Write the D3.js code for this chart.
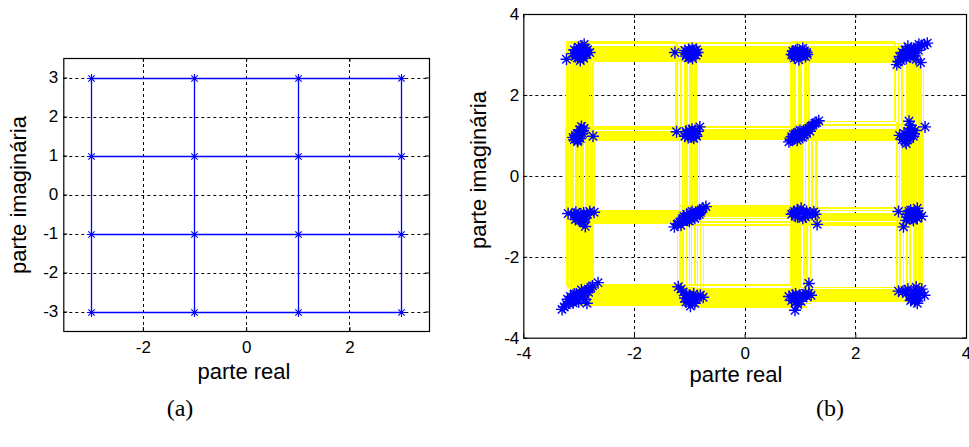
<!DOCTYPE html>
<html><head><meta charset="utf-8">
<script src="https://cdn.jsdelivr.net/npm/d3@7"></script>
<style>body{margin:0;background:#fff}svg{display:block}</style>
</head><body>
<svg id="chart" width="969" height="447"></svg>
<script>
// ---------- data ----------
const levels = [-3, -1, 1, 3];
const leftTicksX = [-2, 0, 2];
const leftTicksY = [-3, -2, -1, 0, 1, 2, 3];
const rightTicksX = [-4, -2, 0, 2, 4];
const rightTicksY = [-4, -2, 0, 2, 4];
const xLabel = "parte real";
const yLabel = "parte imaginária";
const captions = ["(a)", "(b)"];

// yellow horizontal bands: [row level, from column, to column, line y values]
const hBands = [
  [3, -3, -1, [3.31, 3.27, 3.19, 3.16, 3.13, 3.10, 3.07, 3.04, 3.01, 2.98, 2.95, 2.92, 2.89, 2.86, 2.82]],
  [3, -1, 1, [3.28, 3.20, 3.17, 3.14, 3.11, 3.08, 3.05, 3.02, 2.99, 2.96, 2.93, 2.90, 2.87, 2.84, 2.81]],
  [3, 1, 3, [3.31, 3.27, 3.19, 3.16, 3.13, 3.10, 3.07, 3.04, 3.01, 2.98, 2.95, 2.92, 2.89, 2.86, 2.81]],
  [1, -3, -1, [1.21, 1.16, 1.08, 1.05, 1.02, 0.99, 0.96, 0.93, 0.89]],
  [1, -1, 1, [1.22, 1.19, 1.14, 1.11, 1.08, 1.05, 1.02, 0.99, 0.96, 0.93, 0.90]],
  [1, 1, 3, [1.34, 1.27, 1.24, 1.13, 1.10, 1.07, 1.04, 1.01, 0.98, 0.95, 0.92, 0.88]],
  [-1, -3, -1, [-0.86, -0.89, -0.92, -0.95, -0.98, -1.01, -1.04, -1.07, -1.09, -1.13, -1.17]],
  [-1, -1, 1, [-0.75, -0.78, -0.81, -0.84, -0.87, -0.90, -0.93, -0.96, -0.99, -1.01, -1.06, -1.14, -1.22]],
  [-1, 1, 3, [-0.80, -0.86, -0.93, -0.96, -0.99, -1.02, -1.05, -1.09, -1.16, -1.22]],
  [-3, -3, -1, [-2.70, -2.73, -2.76, -2.79, -2.82, -2.85, -2.88, -2.91, -2.94, -2.97, -3.00, -3.03, -3.06, -3.09, -3.12, -3.15, -3.19]],
  [-3, -1, 1, [-2.70, -2.78, -2.82, -2.85, -2.88, -2.91, -2.94, -2.97, -3.00, -3.03, -3.06, -3.09, -3.12, -3.15, -3.18, -3.21, -3.24]],
  [-3, 1, 3, [-2.76, -2.82, -2.86, -2.89, -2.92, -2.95, -2.98, -3.01, -3.04, -3.07, -3.10]]
];
// yellow vertical bands: [column level, from row, to row, line x values]
const vBands = [
  [-3, 3, 1, [-3.22, -3.19, -3.14, -3.11, -3.08, -3.05, -3.02, -2.99, -2.96, -2.93, -2.90, -2.87, -2.83, -2.79, -2.74]],
  [-3, 1, -1, [-3.23, -3.19, -3.15, -3.12, -3.09, -3.06, -3.03, -3.00, -2.97, -2.94, -2.91, -2.88, -2.85, -2.82, -2.79, -2.76, -2.71]],
  [-3, -1, -3, [-3.22, -3.19, -3.14, -3.11, -3.08, -3.05, -3.02, -2.99, -2.96, -2.93, -2.90, -2.87, -2.84, -2.81, -2.78, -2.74]],
  [-1, 3, 1, [-1.24, -1.21, -1.15, -1.09, -1.06, -1.03, -1.00, -0.97, -0.94, -0.91, -0.88]],
  [-1, 1, -1, [-1.18, -1.12, -1.09, -1.06, -1.03, -1.00, -0.97, -0.94, -0.91, -0.88, -0.85, -0.82]],
  [-1, -1, -3, [-1.21, -1.17, -1.11, -1.05, -1.00, -0.96, -0.90, -0.85, -0.80, -0.74]],
  [1, 3, 1, [0.83, 0.86, 0.89, 0.92, 0.97, 1.00, 1.03, 1.09, 1.12, 1.16]],
  [1, 1, -1, [0.83, 0.86, 0.89, 0.92, 0.95, 0.98, 1.01, 1.04, 1.10, 1.16, 1.22, 1.28, 1.31]],
  [1, -1, -3, [0.83, 0.86, 0.89, 0.92, 0.95, 0.98, 1.01, 1.07, 1.13, 1.19]],
  [3, 3, 1, [2.72, 2.78, 2.84, 2.93, 2.96, 2.99, 3.02, 3.05, 3.08, 3.11, 3.14, 3.17, 3.20, 3.23]],
  [3, 1, -1, [2.75, 2.80, 2.84, 2.87, 2.90, 2.93, 2.96, 2.99, 3.02, 3.05, 3.08, 3.11, 3.14, 3.17, 3.20, 3.22]],
  [3, -1, -3, [2.75, 2.81, 2.87, 2.93, 2.99, 3.05, 3.08, 3.11, 3.14, 3.17, 3.21]]
];

// received (noisy) symbols, one list per constellation point
const rxTopRow = [
  [[-3.22,2.88],[-3.05,3.02],[-2.98,3.10],[-2.92,2.98],[-2.88,3.15],[-3.02,2.92],[-2.95,3.05],[-2.85,3.00],[-3.08,3.12],[-2.90,3.25],[-2.97,2.85],[-2.80,3.05],[-3.00,3.18],[-2.93,2.95],[-2.87,3.08],[-3.10,3.02],[-3.04,3.08],[-2.96,3.14],[-2.90,3.04],[-2.99,2.99],[-3.06,2.95],[-2.84,3.12],[-2.94,3.20],[-3.01,3.05],[-2.91,2.91]],
  [[-1.26,3.05],[-1.05,3.00],[-0.98,3.08],[-0.92,3.02],[-1.02,2.92],[-0.95,3.15],[-0.88,2.98],[-1.08,3.10],[-0.97,2.95],[-0.92,3.10],[-1.00,3.04],[-0.85,3.05],[-1.04,3.06],[-0.96,3.00],[-0.90,3.06],[-1.01,3.12],[-0.94,2.90],[-0.99,2.98],[-1.06,2.96],[-0.87,3.12]],
  [[0.89,3.03],[0.92,3.10],[0.85,3.00],[0.90,2.92],[0.95,3.12],[1.07,3.03],[1.10,2.95],[1.05,3.15],[1.12,3.05],[0.98,2.87],[1.02,3.00],[0.87,3.08],[0.93,3.00],[0.88,2.97],[1.08,3.09],[1.04,2.98],[1.13,3.00],[0.91,3.06]],
  [[2.75,2.75],[2.82,2.85],[2.88,2.95],[2.93,3.03],[2.98,3.08],[3.05,3.12],[3.12,3.18],[3.20,3.22],[3.30,3.28],[2.90,3.12],[2.85,3.05],[3.00,2.95],[3.10,2.88],[3.18,2.80],[2.95,3.20],[3.06,3.02],[2.80,2.95],[3.15,3.25],[2.92,2.90],[2.97,3.00],[3.02,3.06],[3.08,3.15],[2.86,2.92],[2.95,2.98],[3.04,2.98],[3.25,3.24],[3.14,3.10],[2.78,2.82],[2.88,3.02],[3.00,3.14]]
];
const rxRow2 = [
  [[-3.05,0.97],[-3.08,0.90],[-3.00,1.02],[-3.02,0.85],[-2.95,1.10],[-2.90,1.18],[-2.93,1.05],[-3.10,0.95],[-2.74,0.98],[-2.97,0.92],[-2.98,1.14],[-3.04,0.92],[-3.06,1.00],[-2.99,0.96],[-2.92,1.12],[-3.01,0.88],[-2.95,1.22],[-3.03,1.04]],
  [[-1.23,1.09],[-1.05,1.05],[-0.98,1.00],[-0.93,1.08],[-1.02,0.95],[-0.95,1.15],[-0.88,1.02],[-0.81,1.21],[-1.00,1.12],[-0.92,0.93],[-1.08,0.98],[-0.97,1.05],[-0.85,1.10],[-1.03,1.02],[-0.96,0.96],[-0.90,1.12],[-0.99,1.08],[-0.94,1.02],[-1.06,1.10],[-0.87,0.98]],
  [[0.80,0.84],[0.86,0.90],[0.92,0.95],[0.97,1.00],[1.02,1.04],[1.07,1.08],[1.13,1.15],[1.20,1.22],[1.27,1.30],[1.34,1.36],[0.88,1.02],[0.95,0.88],[1.05,0.95],[1.00,1.12],[0.85,0.97],[1.12,1.05],[1.18,1.10],[0.83,0.88],[0.90,0.92],[0.94,0.99],[0.99,1.03],[1.04,1.07],[1.10,1.12],[1.16,1.18],[1.23,1.25],[1.30,1.32],[0.92,1.04],[1.02,0.98],[1.08,1.00],[0.97,1.08]],
  [[2.93,0.97],[2.85,0.90],[2.80,1.00],[2.90,0.85],[2.98,0.92],[3.02,1.05],[2.95,1.10],[3.00,1.25],[2.97,1.35],[3.05,0.98],[2.88,1.05],[3.08,1.12],[3.26,1.21],[2.92,0.80],[2.96,1.02],[2.90,0.95],[3.00,1.00],[2.94,0.90],[3.03,1.15],[2.98,1.18],[2.86,0.97],[3.06,1.04]]
];
const rxRow3 = [
  [[-3.19,-0.93],[-3.08,-0.95],[-3.00,-0.98],[-2.95,-1.02],[-2.90,-1.08],[-2.85,-0.95],[-2.80,-0.88],[-2.72,-0.90],[-3.02,-1.05],[-2.92,-1.15],[-2.88,-1.25],[-3.05,-0.90],[-2.98,-1.10],[-2.96,-0.94],[-3.03,-1.00],[-2.93,-1.00],[-2.87,-1.04],[-2.99,-1.04],[-2.91,-0.92],[-3.06,-1.08],[-2.94,-1.12]],
  [[-1.27,-1.26],[-1.20,-1.18],[-1.12,-1.12],[-1.05,-1.06],[-0.98,-1.01],[-0.92,-0.96],[-0.85,-0.90],[-0.78,-0.84],[-0.70,-0.76],[-1.10,-1.00],[-1.00,-1.12],[-0.90,-1.05],[-0.95,-0.88],[-1.15,-1.22],[-0.82,-0.95],[-1.05,-0.95],[-1.17,-1.14],[-1.08,-1.08],[-1.02,-1.03],[-0.95,-0.99],[-0.88,-0.93],[-0.82,-0.86],[-0.75,-0.80],[-1.12,-1.05],[-1.03,-1.10],[-0.93,-1.02],[-0.86,-0.98],[-0.97,-0.92],[-1.22,-1.20],[-0.80,-0.90]],
  [[0.88,-0.92],[0.95,-0.85],[0.92,-1.00],[0.98,-0.95],[1.02,-0.80],[1.08,-0.95],[1.12,-0.88],[1.10,-1.02],[1.18,-0.92],[1.25,-0.89],[1.28,-0.95],[1.31,-1.20],[0.85,-0.95],[1.05,-1.05],[0.90,-0.88],[0.96,-1.02],[1.14,-0.95],[1.22,-0.95],[0.94,-0.92],[1.06,-0.90]],
  [[2.78,-0.88],[2.87,-1.26],[2.95,-0.95],[3.00,-0.85],[3.05,-0.93],[3.10,-1.00],[3.02,-1.05],[3.08,-0.88],[3.15,-0.95],[2.98,-1.02],[3.12,-0.80],[3.05,-1.10],[2.92,-1.10],[3.20,-1.00],[3.02,-0.96],[3.07,-0.98],[3.00,-0.92],[3.12,-1.05],[2.97,-0.88],[3.04,-1.03],[3.10,-0.92],[2.93,-1.02]]
];
const rxBottomRow = [
  [[-3.26,-3.24],[-3.18,-3.15],[-3.10,-3.08],[-3.05,-3.00],[-2.98,-2.95],[-2.90,-2.88],[-2.82,-2.80],[-2.75,-2.72],[-3.15,-2.98],[-3.00,-3.12],[-2.95,-2.82],[-3.08,-2.92],[-2.88,-3.05],[-3.20,-3.05],[-2.85,-3.15],[-3.30,-3.30],[-2.65,-2.64],[-3.22,-3.18],[-3.14,-3.10],[-3.06,-3.05],[-3.02,-2.98],[-2.95,-2.92],[-2.86,-2.84],[-2.78,-2.76],[-3.12,-3.02],[-3.04,-2.92],[-2.97,-3.02],[-2.92,-2.96],[-3.10,-3.14],[-2.82,-2.88]],
  [[-1.20,-2.74],[-1.11,-2.87],[-1.05,-2.95],[-1.01,-3.11],[-0.95,-3.05],[-0.90,-3.15],[-0.80,-2.95],[-0.85,-3.00],[-1.08,-3.02],[-0.98,-3.22],[-0.75,-3.00],[-1.15,-2.80],[-0.92,-2.92],[-1.03,-3.05],[-0.97,-3.00],[-1.06,-3.12],[-0.88,-3.05],[-1.00,-2.95],[-0.94,-3.12]],
  [[0.89,-3.00],[0.85,-3.08],[0.92,-2.92],[0.95,-3.05],[0.91,-3.32],[1.00,-2.95],[1.05,-3.00],[1.10,-2.90],[1.16,-2.90],[1.16,-2.66],[1.02,-3.10],[0.80,-2.98],[1.20,-2.95],[0.96,-3.18],[0.90,-3.05],[0.98,-3.00],[1.07,-2.95],[0.93,-3.12],[1.12,-2.98],[0.87,-2.95]],
  [[2.78,-2.85],[2.86,-2.86],[2.92,-2.90],[3.00,-2.95],[3.05,-2.85],[3.10,-2.91],[3.15,-3.00],[3.08,-3.10],[3.20,-2.80],[3.02,-3.05],[3.12,-3.15],[2.95,-2.80],[3.25,-2.95],[3.10,-2.75],[3.06,-2.96],[3.12,-3.02],[3.04,-3.00],[3.16,-2.88],[3.08,-3.04],[2.90,-2.84],[3.14,-2.94],[3.00,-3.08]]
];

// ---------- drawing ----------
const svg = d3.select("#chart");
const FONT = "'Liberation Sans', Arial, sans-serif";
const starSmall = "M-4.5,0H4.5M0,-4.5V4.5M-3.2,-3.2L3.2,3.2M-3.2,3.2L3.2,-3.2";
const starBig = "M-6,0H6M0,-6V6M-4.2,-4.2L4.2,4.2M-4.2,4.2L4.2,-4.2";
const fmt = d => String(d);
const snap = v => Math.round(v) + 0.5;

function frame(g, x, y, tx, ty) {
  const [x0, x1] = x.range(), [y0, y1] = y.range();
  g.append("g").selectAll("line").data(tx.filter(t => t > x.domain()[0] && t < x.domain()[1])).join("line")
    .attr("x1", d => snap(x(d))).attr("x2", d => snap(x(d)))
    .attr("y1", y1).attr("y2", y0)
    .attr("stroke", "#000").attr("stroke-dasharray", "3,3");
  g.append("g").selectAll("line").data(ty.filter(t => t > y.domain()[0] && t < y.domain()[1])).join("line")
    .attr("y1", d => snap(y(d))).attr("y2", d => snap(y(d)))
    .attr("x1", x0).attr("x2", x1)
    .attr("stroke", "#000").attr("stroke-dasharray", "3,3");
}

function axes(g, x, y, tx, ty, padX, padY) {
  const [x0, x1] = x.range(), [y0, y1] = y.range();
  const ax = g.append("g").attr("transform", `translate(0,${y0})`)
    .call(d3.axisBottom(x).tickValues(tx).tickFormat(fmt).tickSizeInner(-4).tickSizeOuter(0).tickPadding(padX));
  const ay = g.append("g").attr("transform", `translate(${x0},0)`)
    .call(d3.axisLeft(y).tickValues(ty).tickFormat(fmt).tickSizeInner(-4).tickSizeOuter(0).tickPadding(padY));
  const at = g.append("g").attr("transform", `translate(0,${y1})`)
    .call(d3.axisTop(x).tickValues(tx).tickFormat("").tickSizeInner(-4).tickSizeOuter(0));
  const ar = g.append("g").attr("transform", `translate(${x1},0)`)
    .call(d3.axisRight(y).tickValues(ty).tickFormat("").tickSizeInner(-4).tickSizeOuter(0));
  [ax, ay, at, ar].forEach(a => {
    a.select(".domain").remove();
    a.selectAll("text").attr("font-family", FONT).attr("font-size", 17).attr("fill", "#000");
  });
  g.append("rect").attr("x", x0 + 0.5).attr("y", y1 + 0.5)
    .attr("width", x1 - x0).attr("height", y0 - y1)
    .attr("fill", "none").attr("stroke", "#000").attr("stroke-width", 1.2);
}

function labels(cx, by, lx, cy) {
  svg.append("text").attr("x", cx).attr("y", by).attr("text-anchor", "middle")
    .attr("font-family", FONT).attr("font-size", 22).text(xLabel);
  svg.append("text").attr("transform", `translate(${lx},${cy}) rotate(-90)`).attr("text-anchor", "middle")
    .attr("font-family", FONT).attr("font-size", 22).text(yLabel);
}

// ----- (a) ideal constellation -----
{
  const x = d3.scaleLinear().domain([-3.54, 3.54]).range([63.3, 429]);
  const y = d3.scaleLinear().domain([-3.5, 3.5]).range([331, 58]);
  const g = svg.append("g");
  frame(g, x, y, leftTicksX, leftTicksY);
  const line = d3.line().x(d => snap(x(d[0]))).y(d => snap(y(d[1])));
  const lg = g.append("g").attr("fill", "none").attr("stroke", "#0000ff").attr("stroke-width", 1.3);
  levels.forEach(r => lg.append("path").attr("d", line([[levels[0], r], [levels[3], r]])));
  levels.forEach(c => lg.append("path").attr("d", line([[c, levels[0]], [c, levels[3]]])));
  const pts = levels.flatMap(c => levels.map(r => [c, r]));
  g.append("g").selectAll("path").data(pts).join("path")
    .attr("transform", d => `translate(${snap(x(d[0]))},${snap(y(d[1]))})`)
    .attr("d", starSmall).attr("stroke", "#0000ff").attr("stroke-width", 1.1).attr("fill", "none");
  axes(g, x, y, leftTicksX, leftTicksY, 10, 5);
  labels(244, 379, 26, 195);
}

// ----- (b) received constellation -----
{
  const x = d3.scaleLinear().domain([-4, 4]).range([523.3, 966]);
  const y = d3.scaleLinear().domain([-4, 4]).range([337.7, 14]);
  const g = svg.append("g");
  frame(g, x, y, rightTicksX, rightTicksY);
  const yl = g.append("g").attr("stroke", "#ffff00").attr("stroke-width", 1.5)
    .attr("shape-rendering", "crispEdges").attr("fill", "none");
  const findV = (c, r) => vBands.find(b => b[0] === c && (b[1] === r || b[2] === r))[3];
  const findH = (r, c) => hBands.find(b => b[0] === r && (b[1] === c || b[2] === c))[3];
  hBands.forEach(([r, a, b, vals]) => {
    const va = findV(a, r), vb = findV(b, r);
    vals.forEach((v, i) => yl.append("line")
      .attr("x1", x(va[i % va.length])).attr("x2", x(vb[(i * 3) % vb.length]))
      .attr("y1", y(v)).attr("y2", y(v)));
  });
  vBands.forEach(([c, a, b, vals]) => {
    const ha = findH(a, c), hb = findH(b, c);
    vals.forEach((v, i) => yl.append("line")
      .attr("y1", y(ha[i % ha.length])).attr("y2", y(hb[(i * 3) % hb.length]))
      .attr("x1", x(v)).attr("x2", x(v)));
  });
  const rx = [...rxTopRow, ...rxRow2, ...rxRow3, ...rxBottomRow].flat();
  g.append("g").selectAll("path").data(rx).join("path")
    .attr("transform", d => `translate(${x(d[0])},${y(d[1])})`)
    .attr("d", starBig).attr("stroke", "#0000ff").attr("stroke-width", 1.4).attr("fill", "none");
  axes(g, x, y, rightTicksX, rightTicksY, 9, 4);
  labels(736, 382, 486, 170);
}

// captions
svg.append("text").attr("x", 180).attr("y", 416).attr("text-anchor", "middle")
  .attr("font-family", "'Liberation Serif', 'Times New Roman', serif").attr("font-size", 24).text(captions[0]);
svg.append("text").attr("x", 830).attr("y", 416).attr("text-anchor", "middle")
  .attr("font-family", "'Liberation Serif', 'Times New Roman', serif").attr("font-size", 24).text(captions[1]);
</script>
</body></html>
